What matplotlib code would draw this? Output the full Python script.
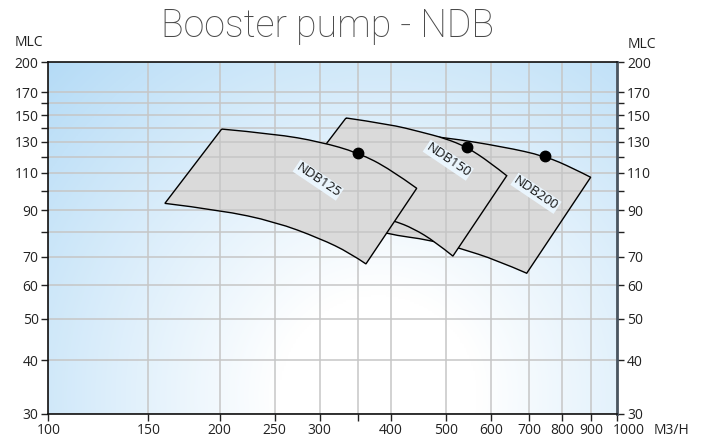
import matplotlib.pyplot as plt
import numpy as np
from matplotlib.patches import PathPatch
from matplotlib.path import Path
from matplotlib.ticker import FixedLocator, NullLocator

plt.rcParams['font.family'] = ['Open Sans', 'DejaVu Sans']

# axis ticks
x_ticks = [100, 150, 200, 250, 300, 350, 400, 500, 600, 700, 800, 900, 1000]
x_labels = ['100', '150', '200', '250', '300', '', '400', '500', '600', '700', '800', '900', '']
y_ticks = [30, 40, 50, 60, 70, 80, 90, 100, 110, 120, 130, 140, 150, 160, 170, 200]
y_labels = ['30', '40', '50', '60', '70', '', '90', '', '110', '', '130', '', '150', '', '170', '200']

# pump envelopes: flow (m3/h) and head (m) along max / min curves
ndb125_top_q = [201.7, 250.3, 300.3, 350.6, 398.6, 444.1]
ndb125_top_h = [139.3, 135.7, 130.1, 122.6, 112.3, 101.2]
ndb125_bot_q = [160.3, 200.4, 250.3, 300.3, 339.0, 361.6]
ndb125_bot_h = [93.3, 90.0, 84.5, 77.2, 71.4, 67.3]

ndb150_top_q = [333.6, 398.6, 450.1, 498.0, 543.8, 597.3, 639.3]
ndb150_top_h = [147.9, 142.9, 137.3, 132.5, 126.4, 116.4, 108.3]
ndb150_bot_q = [263.8, 325.6, 405.6, 438.0, 478.2, 514.1]
ndb150_bot_h = [98.1, 92.5, 84.9, 81.5, 75.9, 70.2]

ndb200_top_q = [450.1, 498.0, 630.5, 747.0, 836.9, 897.8]
ndb200_top_h = [134.9, 133.2, 126.6, 120.4, 112.7, 107.4]
ndb200_bot_q = [339.0, 395.9, 468.6, 529.2, 613.7, 693.1]
ndb200_bot_h = [83.0, 78.9, 76.6, 73.2, 68.7, 64.0]

names = ['NDB200', 'NDB150', 'NDB125']
duty_q = [747.0, 543.8, 350.6]
duty_h = [120.4, 126.4, 122.6]
label_q = [719.6, 504.7, 298.2]
label_h = [98.5, 117.8, 105.8]


def smooth_curve(q, h, first_code):
    # quadratic bezier through the midpoints (geometric, since both axes are log)
    verts = [(q[0], h[0])]
    codes = [first_code]
    n = len(q)
    for i in range(1, n - 1):
        verts.append((q[i], h[i]))
        if i < n - 2:
            verts.append((np.sqrt(q[i] * q[i + 1]), np.sqrt(h[i] * h[i + 1])))
        else:
            verts.append((q[-1], h[-1]))
        codes += [Path.CURVE3, Path.CURVE3]
    return verts, codes


def envelope_path(tq, th, bq, bh):
    v1, c1 = smooth_curve(tq, th, Path.MOVETO)
    v2, c2 = smooth_curve(bq[::-1], bh[::-1], Path.LINETO)
    verts = v1 + v2 + [v1[0]]
    codes = c1 + c2 + [Path.LINETO]
    return Path(verts, codes)


fig = plt.figure(figsize=(7.08, 4.38), dpi=100)
pos = [0.0682, 0.0555, 0.8037, 0.8029]

# background gradient
bg = fig.add_axes(pos, zorder=0)
X, Y = np.meshgrid(np.linspace(0, 1, 320), np.linspace(1, 0, 200))
d = np.sqrt(((X - 0.58) / 0.7) ** 2 + ((Y - 0.05) / 1.15) ** 2)
t = np.clip((d - 0.25) / 0.95, 0, 1)[..., None]
blue = np.array([0.70, 0.855, 0.965])
bg.imshow((1 - t) + t * blue, extent=(0, 1, 0, 1), aspect='auto')
bg.axis('off')

ax = fig.add_axes(pos, zorder=1)
ax.set_facecolor('none')
ax.set_xscale('log')
ax.set_yscale('log')

grid_color = '#c6c6c6'
grid_lw = 1.1

envelopes = [
    (ndb200_top_q, ndb200_top_h, ndb200_bot_q, ndb200_bot_h),
    (ndb150_top_q, ndb150_top_h, ndb150_bot_q, ndb150_bot_h),
    (ndb125_top_q, ndb125_top_h, ndb125_bot_q, ndb125_bot_h),
]
for i, (tq, th, bq, bh) in enumerate(envelopes):
    z = 1 + i * 0.1
    path = envelope_path(tq, th, bq, bh)
    fill = PathPatch(path, facecolor='#dadada', edgecolor='none', zorder=z)
    ax.add_patch(fill)
    # grid shows through the shaded area, under the outline
    vl = ax.vlines(x_ticks[1:-1], 30, 200, colors=grid_color, lw=grid_lw, zorder=z + 0.01)
    hl = ax.hlines(y_ticks[1:-1], 100, 1000, colors=grid_color, lw=grid_lw, zorder=z + 0.01)
    vl.set_clip_path(fill)
    hl.set_clip_path(fill)
    ax.add_patch(PathPatch(path, facecolor='none', edgecolor='black', lw=1.0, zorder=z + 0.02))
    ax.plot(duty_q[i], duty_h[i], 'o', color='black', ms=7.5, zorder=3)
    ax.text(label_q[i], label_h[i], names[i], rotation=-34, rotation_mode='anchor',
            ha='center', va='center', fontsize=9.5, color='#111111', zorder=4,
            bbox=dict(facecolor='#eaf5fd', edgecolor='none', pad=0.6))

ax.set_xlim(100, 1000)
ax.set_ylim(30, 200)

ax.xaxis.set_major_locator(FixedLocator(x_ticks))
ax.xaxis.set_minor_locator(NullLocator())
ax.set_xticklabels(x_labels)
ax.yaxis.set_major_locator(FixedLocator(y_ticks))
ax.yaxis.set_minor_locator(NullLocator())
ax.set_yticklabels(y_labels)

ax.set_axisbelow(True)
ax.grid(True, color=grid_color, lw=grid_lw)
ax.tick_params(axis='both', direction='out', length=5, width=1, labelsize=10,
               colors='#222222')
ax.tick_params(axis='y', left=True, right=True, labelleft=True, labelright=True, pad=2)
ax.tick_params(axis='x', pad=2)
# the last x label sits a little to the right of its tick
ax.annotate('1000', xy=(1000, 0), xycoords=('data', 'axes fraction'),
            xytext=(8, -7), textcoords='offset points', ha='center', va='top',
            fontsize=10, color='#222222')

for s in ['left', 'bottom', 'top']:
    ax.spines[s].set_color('#111111')
    ax.spines[s].set_linewidth(1.2)
ax.spines['right'].set_color('#4a5560')
ax.spines['right'].set_linewidth(2)

fig.text(0.041, 0.902, 'MLC', ha='center', va='center', fontsize=10, color='#222222')
fig.text(0.907, 0.898, 'MLC', ha='center', va='center', fontsize=10, color='#222222')
fig.text(0.948, 0.018, 'M3/H', ha='center', va='center', fontsize=10, color='#222222')

fig.text(0.462, 0.9155, 'Booster pump - NDB', ha='center', va='baseline',
         fontsize=27, color='#4a4a4a', family=['Roboto', 'DejaVu Sans'], weight='light')

fig.savefig('out.png', dpi=100)
